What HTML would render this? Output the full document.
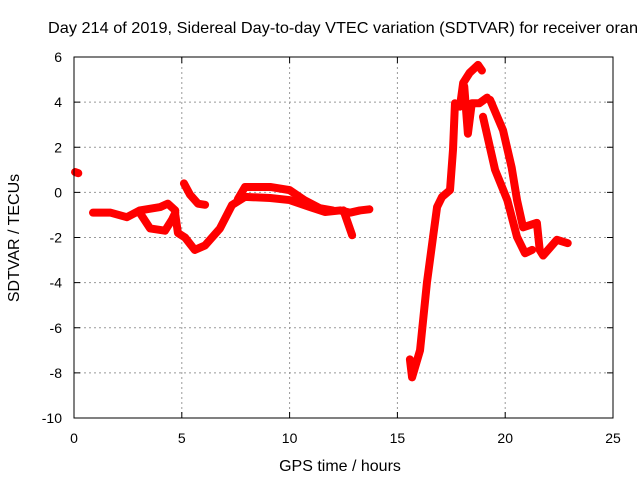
<!DOCTYPE html>
<html><head><meta charset="utf-8"><style>
body{margin:0;background:#fff;overflow:hidden}
svg{display:block;font-family:"Liberation Sans",sans-serif}
</style></head><body>
<svg id="chart" width="640" height="480">
<text x="48" y="33" font-size="16" textLength="590" lengthAdjust="spacingAndGlyphs">Day 214 of 2019, Sidereal Day-to-day VTEC variation (SDTVAR) for receiver oran</text>
<text x="340" y="471" font-size="16" text-anchor="middle">GPS time / hours</text>
<text transform="translate(19,238) rotate(-90)" font-size="16" text-anchor="middle">SDTVAR / TECUs</text>
<g id="grid"></g><g id="series"></g>
<rect x="74" y="57" width="539" height="361" fill="none" stroke="#000"/>
</svg>
<script>
const xTicks=[0,5,10,15,20,25];
const yTicks=[-10,-8,-6,-4,-2,0,2,4,6];
const segA=[[0.05,0.9],[0.2,0.85]];
const segB=[[0.88,-0.9],[1.7,-0.9],[2.45,-1.1],[3.05,-0.8],[4.0,-0.65],[4.35,-0.5],[4.7,-0.8]];
const segLoop=[[3.05,-0.9],[3.53,-1.6],[4.22,-1.7],[4.55,-1.2],[4.7,-0.9]];
const segMain=[[4.7,-1.0],[4.82,-1.8],[5.15,-2.0],[5.6,-2.55],[6.08,-2.35],[6.77,-1.6],[7.33,-0.56],[7.93,-0.2],[9.1,-0.25],[10.0,-0.34],[10.95,-0.65],[11.64,-0.87],[12.34,-0.8],[12.8,-0.9],[13.26,-0.8],[13.7,-0.75]];
const segUpper=[[7.6,-0.3],[7.93,0.24],[9.1,0.24],[10.0,0.1],[10.7,-0.35],[11.4,-0.7],[12.0,-0.8]];
const segDrop=[[12.5,-0.8],[12.9,-1.9]];
const segAt5=[[5.1,0.4],[5.38,-0.1],[5.75,-0.5],[6.08,-0.55]];
const segRise=[[15.58,-7.4],[15.68,-8.2],[16.05,-7.0],[16.37,-4.0],[16.65,-2.0],[16.84,-0.65],[17.07,-0.2],[17.44,0.1],[17.58,1.9],[17.67,3.95],[17.9,3.8],[18.05,4.85],[18.35,5.3],[18.74,5.65],[18.92,5.4]];
const segInner=[[18.1,4.7],[18.27,2.6],[18.45,3.95],[18.8,3.95],[19.16,4.2]];
const segDesc1=[[18.97,3.35],[19.53,1.0],[20.1,-0.35],[20.55,-1.98],[20.92,-2.7],[21.25,-2.55]];
const segDesc2=[[19.3,4.1],[19.9,2.75],[20.3,1.1],[20.55,-0.35],[20.83,-1.55],[21.47,-1.35],[21.6,-2.55],[21.76,-2.8],[22.4,-2.1],[22.9,-2.25]];
const NS="http://www.w3.org/2000/svg";
const X=h=>74+h*539/25, Y=v=>57+(6-v)*361/16;
const grid=document.getElementById('grid'), ser=document.getElementById('series');
function mk(t,a,p){const e=document.createElementNS(NS,t);for(const k in a)e.setAttribute(k,a[k]);p.appendChild(e);return e;}
xTicks.forEach(t=>{
 if(t>0&&t<25){const g=mk('line',{x1:X(t),x2:X(t),y1:57,y2:418,stroke:'#999','stroke-dasharray':'2,3'},grid);
 
 }
 mk('line',{x1:X(t),x2:X(t),y1:418,y2:412,stroke:'#000'},grid);
 mk('line',{x1:X(t),x2:X(t),y1:57,y2:63,stroke:'#000'},grid);
 const l=mk('text',{x:X(t),y:443,'font-size':14,'text-anchor':'middle'},grid);l.textContent=t;
 
 
});
yTicks.forEach(t=>{
 if(t>-10&&t<6){const g=mk('line',{x1:74,x2:613,y1:Y(t),y2:Y(t),stroke:'#999','stroke-dasharray':'2,3'},grid);
 
 }
 mk('line',{x1:74,x2:80,y1:Y(t),y2:Y(t),stroke:'#000'},grid);
 mk('line',{x1:613,x2:607,y1:Y(t),y2:Y(t),stroke:'#000'},grid);
 const l=mk('text',{x:62,y:Y(t)+5,'font-size':14,'text-anchor':'end'},grid);l.textContent=t;
 
 
});
[segA,segB,segLoop,segMain,segUpper,segDrop,segAt5,segRise,segInner,segDesc1,segDesc2].forEach(s=>{
 const p=mk('polyline',{points:s.map(d=>X(d[0])+','+Y(d[1])).join(' '),fill:'none',stroke:'#f00','stroke-width':8,'stroke-linejoin':'round','stroke-linecap':'round'},ser);
 
 
});
</script>
</body></html>
